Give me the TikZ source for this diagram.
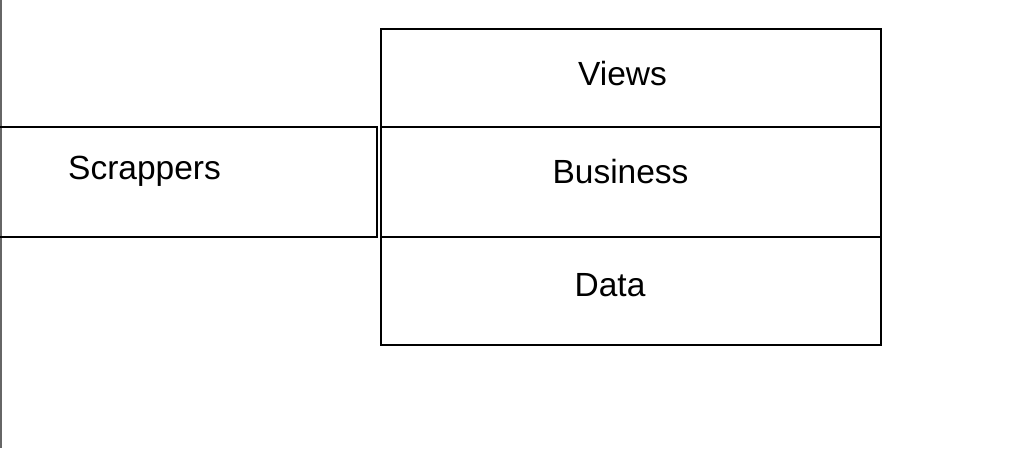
\documentclass[tikz,border=0pt]{standalone}
\usepackage{fontspec}
\setmainfont{Liberation Sans}
\begin{document}
\begin{tikzpicture}[x=1pt,y=-1pt,
  box/.style={draw=black,line width=2pt},
  lbl/.style={inner sep=0pt,anchor=base,font=\fontsize{33.5}{40}\selectfont}]
\useasboundingbox (0,0) rectangle (1030,448);
\fill[white] (0,0) rectangle (1030,448);
\draw[gray!80!black,line width=2.5pt] (1,0) -- (1,448);
% Scrappers box
\draw[box] (-2,127) rectangle (377,237);
\node[lbl,anchor=base west] (scr) at (68,179.5) {Scrappers};
% stack
\draw[box] (381,29) rectangle (881,127);
\draw[box] (381,127) rectangle (881,237);
\draw[box] (381,237) rectangle (881,345);
\node[lbl] (views) at (622.5,85) {Views};
\node[lbl] (bus) at (620.5,183) {Business};
\node[lbl] (data) at (610,296) {Data};
\end{tikzpicture}
\end{document}
